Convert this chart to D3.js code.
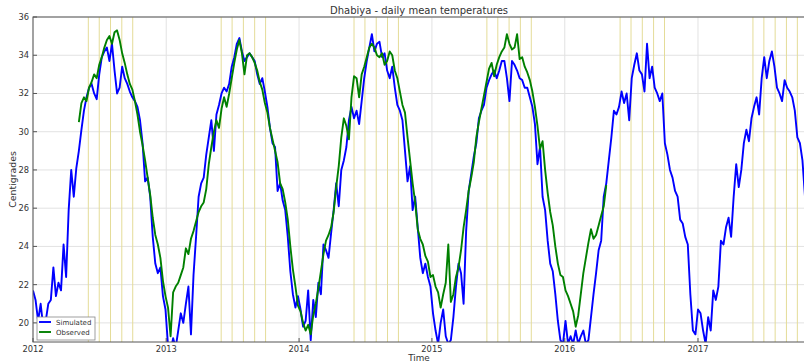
<!DOCTYPE html>
<html>
<head>
<meta charset="utf-8">
<script src="https://cdn.jsdelivr.net/npm/d3@7"></script>
<style>
  body { margin: 0; background: #fff; }
  text { font-family: "DejaVu Sans", sans-serif; fill: #333; }
</style>
</head>
<body>
<svg id="chart" width="804" height="363"></svg>
<script>
// Data (weekly readings, degrees C)
const chartTitle = "Dhabiya - daily mean temperatures";
const simStart = "2012-01-01";
const obsStart = "2012-05-06";
const stepDays = 7;

const simulated = [
  21.7, 21.2, 20.1, 21.0, 19.8, 20.1, 21.0, 21.2, 22.9, 21.4,
  22.1, 21.7, 24.1, 22.4, 25.9, 28.0, 26.6, 28.1, 29.0, 30.1,
  31.1, 31.8, 32.3, 32.5, 32.0, 31.7, 33.0, 33.9, 34.2, 34.4,
  33.7, 34.6, 33.2, 32.0, 32.3, 33.4, 32.8, 32.5, 32.1, 31.8,
  31.6, 31.3, 30.6, 29.4, 27.4, 27.6, 26.6, 24.5, 23.1, 22.6,
  22.9, 21.4, 20.7, 18.8, 18.5, 19.2, 18.7, 19.6, 20.5, 20.0,
  21.0, 21.9, 19.4, 22.5, 24.5, 26.6, 27.3, 27.6, 28.8, 29.7,
  30.6, 29.0, 30.9, 31.4, 32.0, 32.3, 32.1, 32.5, 33.4, 33.9,
  34.6, 34.9, 34.2, 33.7, 33.9, 34.1, 33.9, 33.7, 33.0, 32.5,
  32.8, 32.1, 31.3, 30.2, 29.4, 29.2, 26.9, 27.3, 26.4, 25.9,
  24.5, 22.7, 21.5, 20.8, 21.4, 20.7, 19.8, 20.1, 21.7, 19.1,
  21.2, 20.3, 22.1, 21.5, 24.1, 23.8, 23.4, 24.7, 25.9, 27.3,
  26.1, 28.0, 28.5, 29.2, 30.6, 31.3, 30.7, 31.1, 30.4, 31.6,
  32.8, 33.7, 34.4, 35.1, 34.2, 34.6, 34.7, 33.9, 34.1, 33.2,
  32.8, 33.4, 32.3, 31.4, 31.1, 30.6, 29.0, 27.4, 28.2, 25.9,
  26.6, 25.0, 23.4, 22.6, 23.1, 22.4, 21.9, 20.5, 19.6, 18.9,
  20.0, 20.7, 19.3, 18.9, 19.1, 20.3, 21.9, 23.1, 22.6, 21.0,
  24.8, 26.9, 27.8, 28.7, 29.4, 30.7, 31.1, 31.4, 32.3, 32.7,
  33.0, 33.2, 32.8, 33.2, 33.7, 33.7, 32.8, 31.6, 33.7, 33.5,
  33.2, 32.8, 32.7, 32.3, 32.3, 31.8, 31.3, 30.4, 28.3, 29.2,
  26.6, 25.9, 24.3, 23.1, 22.7, 21.5, 20.1, 19.1, 18.9, 20.1,
  18.9, 19.3, 18.9, 19.6, 18.9, 19.3, 19.6, 18.9, 19.1, 20.3,
  21.5, 22.6, 23.8, 24.3, 26.6, 27.3, 28.5, 29.7, 31.1, 30.9,
  31.3, 32.1, 31.5, 32.0, 30.6, 32.8, 33.5, 34.1, 33.2, 33.0,
  32.1, 34.6, 32.8, 33.4, 32.3, 32.0, 31.6, 32.0, 29.4, 28.8,
  28.0, 27.6, 26.9, 26.6, 25.4, 25.2, 24.5, 24.1, 21.5, 19.6,
  19.4, 20.7, 20.5, 19.6, 18.9, 20.3, 19.6, 21.7, 21.2, 21.9,
  24.3, 24.1, 25.0, 25.5, 24.5, 26.6, 28.3, 27.1, 28.0, 29.4,
  30.1, 29.5, 30.7, 31.3, 31.8, 30.9, 32.8, 33.9, 32.8, 33.7,
  34.2, 33.4, 32.3, 32.0, 31.6, 32.7, 32.3, 32.1, 31.8, 31.1,
  29.7, 29.4, 28.5, 26.6
];

const observed = [
  30.5, 31.5, 31.8, 31.6, 32.3, 32.6, 33.0, 32.8, 33.5, 33.9,
  34.4, 34.8, 35.0, 34.6, 35.2, 35.3, 34.8, 34.1, 33.6, 33.0,
  32.5, 32.2, 31.6, 30.9, 30.0, 29.3, 28.5, 27.6, 26.7, 25.5,
  24.6, 24.1, 23.4, 22.2, 21.4, 20.8, 19.3, 21.6, 21.9, 22.1,
  22.5, 22.9, 23.9, 23.6, 24.4, 24.8, 25.3, 25.8, 26.1, 26.3,
  27.0, 28.3, 29.2, 30.0, 30.6, 30.2, 31.2, 31.8, 31.3, 32.0,
  32.8, 33.6, 34.3, 34.8, 34.1, 33.0, 34.0, 34.1, 33.9, 33.6,
  33.2, 32.6, 32.2, 31.5, 31.0, 30.2, 29.6, 29.0, 28.4, 27.3,
  27.0, 26.3, 25.4, 24.0, 22.8, 21.9, 20.9, 20.6, 20.0, 19.6,
  19.9, 19.4, 20.4, 21.0, 21.8, 22.7, 23.6, 24.3, 24.6, 25.0,
  25.8, 27.1, 28.2, 29.7, 30.7, 30.3, 29.6, 31.8, 32.9, 32.8,
  31.8, 33.0, 33.4, 33.9, 34.4, 34.6, 34.4, 34.0, 33.9, 34.1,
  33.5, 33.7, 34.2, 34.0, 33.2, 32.8, 32.1, 31.4, 31.0, 29.7,
  28.5, 27.3, 26.3, 24.9, 24.4, 24.1, 23.5, 23.2, 22.4, 22.5,
  21.9, 21.6, 20.8, 21.5, 22.1, 24.1, 21.1, 21.5, 22.4, 22.9,
  23.8, 25.0, 25.9, 26.9, 27.6, 28.4, 29.7, 30.5, 31.2, 31.9,
  32.6, 33.3, 33.6, 32.9, 33.5, 33.9, 34.2, 34.4, 35.1, 34.6,
  34.3, 34.4, 35.1, 33.8, 33.9, 33.4, 33.1, 32.7, 32.1, 31.3,
  30.3, 29.1, 29.5, 28.0, 26.8, 25.8, 25.1, 24.0, 23.1, 22.5,
  22.4, 21.7, 21.4, 21.0, 20.6, 19.8, 20.4, 21.5, 22.6, 23.4,
  24.2, 24.9, 24.4, 24.6, 25.1, 25.6, 26.1, 27.2
];

const yTicks = [20, 22, 24, 26, 28, 30, 32, 34, 36];
const xTickYears = [2012, 2013, 2014, 2015, 2016, 2017];
const markedMonths = [5, 6, 7, 8, 9]; // Jun..Oct, first of month
const seriesNames = ["Simulated", "Observed"];
const seriesColours = ["#0000ff", "#008000"];

// Layout
const width = 804, height = 363;
const margin = { left: 33, right: -1, top: 17, bottom: 21 };

const svg = d3.select("#chart");
const parse = d3.utcParse("%Y-%m-%d");

const simData = simulated.map((v, i) => ({ date: d3.utcDay.offset(parse(simStart), i * stepDays), value: v }));
const obsData = observed.map((v, i) => ({ date: d3.utcDay.offset(parse(obsStart), i * stepDays), value: v }));

const x = d3.scaleUtc()
  .domain([simData[0].date, simData[simData.length - 1].date])
  .range([margin.left, width - margin.right]);

const y = d3.scaleLinear()
  .domain([19, 36])
  .range([height - margin.bottom, margin.top]);

const x0 = margin.left, x1 = width - margin.right;
const y0 = margin.top, y1 = height - margin.bottom;

svg.append("defs").append("clipPath").attr("id", "plot")
  .append("rect").attr("x", x0).attr("y", y0).attr("width", x1 - x0).attr("height", y1 - y0);

// Grid
svg.append("g").selectAll("line").data(yTicks).enter().append("line")
  .attr("x1", x0).attr("x2", x1)
  .attr("y1", d => y(d)).attr("y2", d => y(d))
  .attr("stroke", "#e2e2e2").attr("stroke-width", 1);

svg.append("g").selectAll("line").data(xTickYears).enter().append("line")
  .attr("x1", d => x(Date.UTC(d, 0, 1))).attr("x2", d => x(Date.UTC(d, 0, 1)))
  .attr("y1", y0).attr("y2", y1)
  .attr("stroke", "#e2e2e2").attr("stroke-width", 1);

// Season marker lines
const marks = [];
xTickYears.forEach(yr => markedMonths.forEach(m => marks.push(new Date(Date.UTC(yr, m, 1)))));
svg.append("g").attr("clip-path", "url(#plot)").selectAll("line").data(marks).enter().append("line")
  .attr("x1", d => x(d)).attr("x2", d => x(d))
  .attr("y1", y0).attr("y2", y1)
  .attr("stroke", "#e4dc98").attr("stroke-width", 1);

// Series
const line = d3.line().x(d => x(d.date)).y(d => y(d.value));
const plot = svg.append("g").attr("clip-path", "url(#plot)");
[simData, obsData].forEach((data, i) => {
  plot.append("path").datum(data)
    .attr("d", line)
    .attr("fill", "none")
    .attr("stroke", seriesColours[i])
    .attr("stroke-width", 1.9)
    .attr("stroke-linejoin", "round");
});

// Frame
svg.append("rect")
  .attr("x", x0).attr("y", y0).attr("width", x1 - x0).attr("height", y1 - y0)
  .attr("fill", "none").attr("stroke", "#555").attr("stroke-width", 1);

// Ticks + labels
svg.append("g").selectAll("text").data(yTicks).enter().append("text")
  .attr("x", x0 - 4).attr("y", d => y(d) + 3)
  .attr("text-anchor", "end")
  .style("font-size", "8.3px")
  .text(d => d);

svg.append("g").selectAll("line").data(yTicks).enter().append("line")
  .attr("x1", x0).attr("x2", x0 + 4)
  .attr("y1", d => y(d)).attr("y2", d => y(d))
  .attr("stroke", "#555");

svg.append("g").selectAll("text").data(xTickYears).enter().append("text")
  .attr("x", d => x(Date.UTC(d, 0, 1))).attr("y", y1 + 10)
  .attr("text-anchor", "middle")
  .style("font-size", "8.3px")
  .text(d => d);

svg.append("g").selectAll("line").data(xTickYears).enter().append("line")
  .attr("x1", d => x(Date.UTC(d, 0, 1))).attr("x2", d => x(Date.UTC(d, 0, 1)))
  .attr("y1", y1).attr("y2", y1 - 4)
  .attr("stroke", "#555");

// Titles
svg.append("text")
  .attr("x", (x0 + x1) / 2).attr("y", 14)
  .attr("text-anchor", "middle")
  .style("font-size", "10px")
  .text(chartTitle);

svg.append("text")
  .attr("x", (x0 + x1) / 2).attr("y", 361)
  .attr("text-anchor", "middle")
  .style("font-size", "8.8px")
  .text("Time");

svg.append("text")
  .attr("transform", `translate(16,${(y0 + y1) / 2}) rotate(-90)`)
  .attr("text-anchor", "middle")
  .style("font-size", "9.4px")
  .text("Centigrades");

// Legend
const legend = svg.append("g");
legend.append("rect")
  .attr("x", 37).attr("y", 317).attr("width", 58).attr("height", 23)
  .attr("fill", "#fff").attr("stroke", "#888").attr("stroke-width", 0.8);
seriesNames.forEach((name, i) => {
  const ly = 322 + i * 10;
  legend.append("line")
    .attr("x1", 39).attr("x2", 51).attr("y1", ly).attr("y2", ly)
    .attr("stroke", seriesColours[i]).attr("stroke-width", 1.9);
  legend.append("text")
    .attr("x", 56).attr("y", ly + 2.5)
    .style("font-size", "7px")
    .text(name);
});
</script>
</body>
</html>
